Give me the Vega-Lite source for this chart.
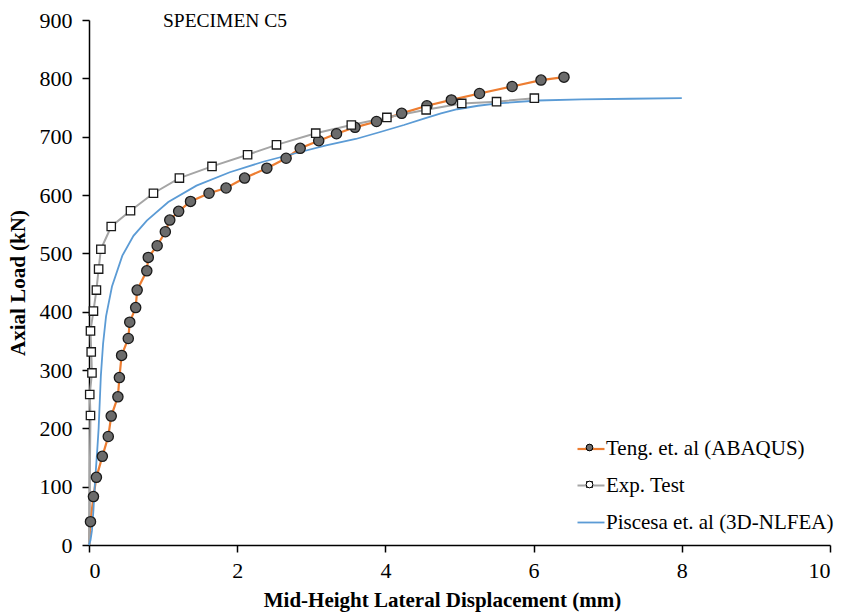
{
  "$schema": "https://vega.github.io/schema/vega-lite/v6.json",
  "width": 741,
  "height": 525,
  "autosize": {"type": "none"},
  "padding": {"left": 89, "top": 20, "right": 13, "bottom": 69},
  "background": "white",
  "config": {
    "font": "Liberation Serif",
    "view": {"stroke": null},
    "axis": {
      "grid": false,
      "domainColor": "black",
      "domainWidth": 1.5,
      "tickColor": "black",
      "tickWidth": 1.5,
      "tickSize": 7,
      "labelFont": "Liberation Serif",
      "labelFontSize": 22,
      "labelColor": "black",
      "titleFont": "Liberation Serif",
      "titleFontSize": 21,
      "titleFontWeight": "bold",
      "titleColor": "black"
    },
    "legend": {
      "labelFont": "Liberation Serif",
      "labelFontSize": 21,
      "labelColor": "black",
      "labelLimit": 400,
      "padding": 0
    }
  },
  "title": {
    "text": "SPECIMEN C5",
    "anchor": "start",
    "frame": "group",
    "orient": "top",
    "offset": 0,
    "dx": 74,
    "dy": 37,
    "baseline": "alphabetic",
    "fontSize": 19.5,
    "fontWeight": "normal",
    "font": "Liberation Serif",
    "color": "black"
  },
  "data": {
    "values": [
      {"series": "Teng. et. al (ABAQUS)", "disp": 0, "load": 0},
      {"series": "Teng. et. al (ABAQUS)", "disp": 0.02, "load": 40},
      {"series": "Teng. et. al (ABAQUS)", "disp": 0.06, "load": 83},
      {"series": "Teng. et. al (ABAQUS)", "disp": 0.10, "load": 116},
      {"series": "Teng. et. al (ABAQUS)", "disp": 0.18, "load": 152},
      {"series": "Teng. et. al (ABAQUS)", "disp": 0.26, "load": 186},
      {"series": "Teng. et. al (ABAQUS)", "disp": 0.30, "load": 221},
      {"series": "Teng. et. al (ABAQUS)", "disp": 0.39, "load": 254},
      {"series": "Teng. et. al (ABAQUS)", "disp": 0.41, "load": 287},
      {"series": "Teng. et. al (ABAQUS)", "disp": 0.44, "load": 325},
      {"series": "Teng. et. al (ABAQUS)", "disp": 0.53, "load": 354},
      {"series": "Teng. et. al (ABAQUS)", "disp": 0.55, "load": 382},
      {"series": "Teng. et. al (ABAQUS)", "disp": 0.63, "load": 407},
      {"series": "Teng. et. al (ABAQUS)", "disp": 0.65, "load": 437},
      {"series": "Teng. et. al (ABAQUS)", "disp": 0.78, "load": 470},
      {"series": "Teng. et. al (ABAQUS)", "disp": 0.80, "load": 493},
      {"series": "Teng. et. al (ABAQUS)", "disp": 0.92, "load": 513},
      {"series": "Teng. et. al (ABAQUS)", "disp": 1.03, "load": 537},
      {"series": "Teng. et. al (ABAQUS)", "disp": 1.09, "load": 557},
      {"series": "Teng. et. al (ABAQUS)", "disp": 1.21, "load": 572},
      {"series": "Teng. et. al (ABAQUS)", "disp": 1.37, "load": 589},
      {"series": "Teng. et. al (ABAQUS)", "disp": 1.62, "load": 603},
      {"series": "Teng. et. al (ABAQUS)", "disp": 1.85, "load": 612},
      {"series": "Teng. et. al (ABAQUS)", "disp": 2.10, "load": 629},
      {"series": "Teng. et. al (ABAQUS)", "disp": 2.40, "load": 646},
      {"series": "Teng. et. al (ABAQUS)", "disp": 2.66, "load": 663},
      {"series": "Teng. et. al (ABAQUS)", "disp": 2.85, "load": 680},
      {"series": "Teng. et. al (ABAQUS)", "disp": 3.10, "load": 693},
      {"series": "Teng. et. al (ABAQUS)", "disp": 3.34, "load": 705},
      {"series": "Teng. et. al (ABAQUS)", "disp": 3.59, "load": 716},
      {"series": "Teng. et. al (ABAQUS)", "disp": 3.88, "load": 726},
      {"series": "Teng. et. al (ABAQUS)", "disp": 4.22, "load": 740},
      {"series": "Teng. et. al (ABAQUS)", "disp": 4.56, "load": 753},
      {"series": "Teng. et. al (ABAQUS)", "disp": 4.89, "load": 763},
      {"series": "Teng. et. al (ABAQUS)", "disp": 5.27, "load": 774},
      {"series": "Teng. et. al (ABAQUS)", "disp": 5.71, "load": 786},
      {"series": "Teng. et. al (ABAQUS)", "disp": 6.10, "load": 797},
      {"series": "Teng. et. al (ABAQUS)", "disp": 6.41, "load": 802},
      {"series": "Exp. Test", "disp": 0, "load": 0},
      {"series": "Exp. Test", "disp": 0.02, "load": 222},
      {"series": "Exp. Test", "disp": 0.01, "load": 258},
      {"series": "Exp. Test", "disp": 0.04, "load": 295},
      {"series": "Exp. Test", "disp": 0.03, "load": 331},
      {"series": "Exp. Test", "disp": 0.02, "load": 367},
      {"series": "Exp. Test", "disp": 0.06, "load": 401},
      {"series": "Exp. Test", "disp": 0.10, "load": 437},
      {"series": "Exp. Test", "disp": 0.13, "load": 473},
      {"series": "Exp. Test", "disp": 0.16, "load": 507},
      {"series": "Exp. Test", "disp": 0.30, "load": 546},
      {"series": "Exp. Test", "disp": 0.56, "load": 573},
      {"series": "Exp. Test", "disp": 0.87, "load": 603},
      {"series": "Exp. Test", "disp": 1.22, "load": 629},
      {"series": "Exp. Test", "disp": 1.66, "load": 649},
      {"series": "Exp. Test", "disp": 2.14, "load": 669},
      {"series": "Exp. Test", "disp": 2.53, "load": 686},
      {"series": "Exp. Test", "disp": 3.06, "load": 706},
      {"series": "Exp. Test", "disp": 3.54, "load": 720},
      {"series": "Exp. Test", "disp": 4.02, "load": 733},
      {"series": "Exp. Test", "disp": 4.55, "load": 746},
      {"series": "Exp. Test", "disp": 5.03, "load": 757},
      {"series": "Exp. Test", "disp": 5.50, "load": 760},
      {"series": "Exp. Test", "disp": 6.01, "load": 766},
      {"series": "Piscesa et. al (3D-NLFEA)", "disp": 0, "load": 0},
      {"series": "Piscesa et. al (3D-NLFEA)", "disp": 0.02, "load": 8},
      {"series": "Piscesa et. al (3D-NLFEA)", "disp": 0.04, "load": 25},
      {"series": "Piscesa et. al (3D-NLFEA)", "disp": 0.06, "load": 60},
      {"series": "Piscesa et. al (3D-NLFEA)", "disp": 0.08, "load": 106},
      {"series": "Piscesa et. al (3D-NLFEA)", "disp": 0.11, "load": 160},
      {"series": "Piscesa et. al (3D-NLFEA)", "disp": 0.13, "load": 200},
      {"series": "Piscesa et. al (3D-NLFEA)", "disp": 0.16, "load": 290},
      {"series": "Piscesa et. al (3D-NLFEA)", "disp": 0.19, "load": 345},
      {"series": "Piscesa et. al (3D-NLFEA)", "disp": 0.23, "load": 392},
      {"series": "Piscesa et. al (3D-NLFEA)", "disp": 0.31, "load": 443},
      {"series": "Piscesa et. al (3D-NLFEA)", "disp": 0.45, "load": 496},
      {"series": "Piscesa et. al (3D-NLFEA)", "disp": 0.60, "load": 530},
      {"series": "Piscesa et. al (3D-NLFEA)", "disp": 0.78, "load": 556},
      {"series": "Piscesa et. al (3D-NLFEA)", "disp": 1.07, "load": 588},
      {"series": "Piscesa et. al (3D-NLFEA)", "disp": 1.45, "load": 616},
      {"series": "Piscesa et. al (3D-NLFEA)", "disp": 1.90, "load": 639},
      {"series": "Piscesa et. al (3D-NLFEA)", "disp": 2.35, "load": 657},
      {"series": "Piscesa et. al (3D-NLFEA)", "disp": 2.80, "load": 672},
      {"series": "Piscesa et. al (3D-NLFEA)", "disp": 3.20, "load": 685},
      {"series": "Piscesa et. al (3D-NLFEA)", "disp": 3.60, "load": 696},
      {"series": "Piscesa et. al (3D-NLFEA)", "disp": 3.93, "load": 708},
      {"series": "Piscesa et. al (3D-NLFEA)", "disp": 4.25, "load": 720},
      {"series": "Piscesa et. al (3D-NLFEA)", "disp": 4.52, "load": 731},
      {"series": "Piscesa et. al (3D-NLFEA)", "disp": 4.75, "load": 740},
      {"series": "Piscesa et. al (3D-NLFEA)", "disp": 4.97, "load": 747},
      {"series": "Piscesa et. al (3D-NLFEA)", "disp": 5.25, "load": 753},
      {"series": "Piscesa et. al (3D-NLFEA)", "disp": 5.52, "load": 757},
      {"series": "Piscesa et. al (3D-NLFEA)", "disp": 6.06, "load": 762},
      {"series": "Piscesa et. al (3D-NLFEA)", "disp": 6.65, "load": 764},
      {"series": "Piscesa et. al (3D-NLFEA)", "disp": 7.30, "load": 765},
      {"series": "Piscesa et. al (3D-NLFEA)", "disp": 8.00, "load": 766}
    ]
  },
  "encoding": {
    "x": {
      "field": "disp",
      "type": "quantitative",
      "scale": {"domain": [0, 10], "nice": false},
      "axis": {
        "title": "Mid-Height Lateral Displacement (mm)",
        "values": [0, 2, 4, 6, 8, 10],
        "labelPadding": 8,
        "titlePadding": 8,
        "titleX": 353
      }
    },
    "y": {
      "field": "load",
      "type": "quantitative",
      "scale": {"domain": [0, 900], "nice": false},
      "axis": {
        "title": "Axial Load (kN)",
        "values": [0, 100, 200, 300, 400, 500, 600, 700, 800, 900],
        "labelPadding": 10,
        "titlePadding": 11
      }
    }
  },
  "layer": [
    {
      "mark": {"type": "line", "interpolate": "linear"},
      "encoding": {
        "order": {"field": "load", "type": "quantitative"},
        "color": {
          "field": "series",
          "type": "nominal",
          "scale": {
            "domain": ["Teng. et. al (ABAQUS)", "Exp. Test", "Piscesa et. al (3D-NLFEA)"],
            "range": ["#ED7D31", "#A5A5A5", "#5B9BD5"]
          },
          "legend": {
            "title": null,
            "orient": "none",
            "legendX": 487,
            "legendY": 414,
            "symbolType": "stroke",
            "symbolSize": 729,
            "symbolStrokeWidth": 2,
            "labelOffset": 0,
            "rowPadding": 12
          }
        },
        "strokeWidth": {
          "field": "series",
          "type": "nominal",
          "scale": {
            "domain": ["Teng. et. al (ABAQUS)", "Exp. Test", "Piscesa et. al (3D-NLFEA)"],
            "range": [2.2, 1.8, 2]
          },
          "legend": null
        }
      }
    },
    {
      "transform": [
        {"filter": "datum.series !== 'Piscesa et. al (3D-NLFEA)' && datum.load > 0"},
        {"fold": ["series"], "as": ["key", "grp"]}
      ],
      "mark": {"type": "point", "filled": true, "stroke": "#1a1a1a", "strokeWidth": 1.3, "opacity": 1},
      "encoding": {
        "shape": {
          "field": "grp",
          "type": "nominal",
          "sort": ["Teng. et. al (ABAQUS)", "Exp. Test"],
          "scale": {"range": ["circle", "square"]},
          "legend": {
            "title": null,
            "orient": "none",
            "legendX": 490,
            "legendY": 417,
            "symbolSize": 45,
            "symbolStrokeColor": "black",
            "symbolStrokeWidth": 1,
            "labelExpr": "''",
            "rowPadding": 15
          }
        },
        "fill": {
          "field": "grp",
          "type": "nominal",
          "sort": ["Teng. et. al (ABAQUS)", "Exp. Test"],
          "scale": {"range": ["#6b6b6b", "white"]},
          "legend": {
            "title": null,
            "orient": "none",
            "legendX": 490,
            "legendY": 417,
            "symbolSize": 45,
            "symbolStrokeColor": "black",
            "symbolStrokeWidth": 1,
            "labelExpr": "''",
            "rowPadding": 15
          }
        },
        "size": {
          "field": "grp",
          "type": "nominal",
          "scale": {"domain": ["Teng. et. al (ABAQUS)", "Exp. Test"], "range": [105, 70]},
          "legend": null
        }
      }
    }
  ]
}
